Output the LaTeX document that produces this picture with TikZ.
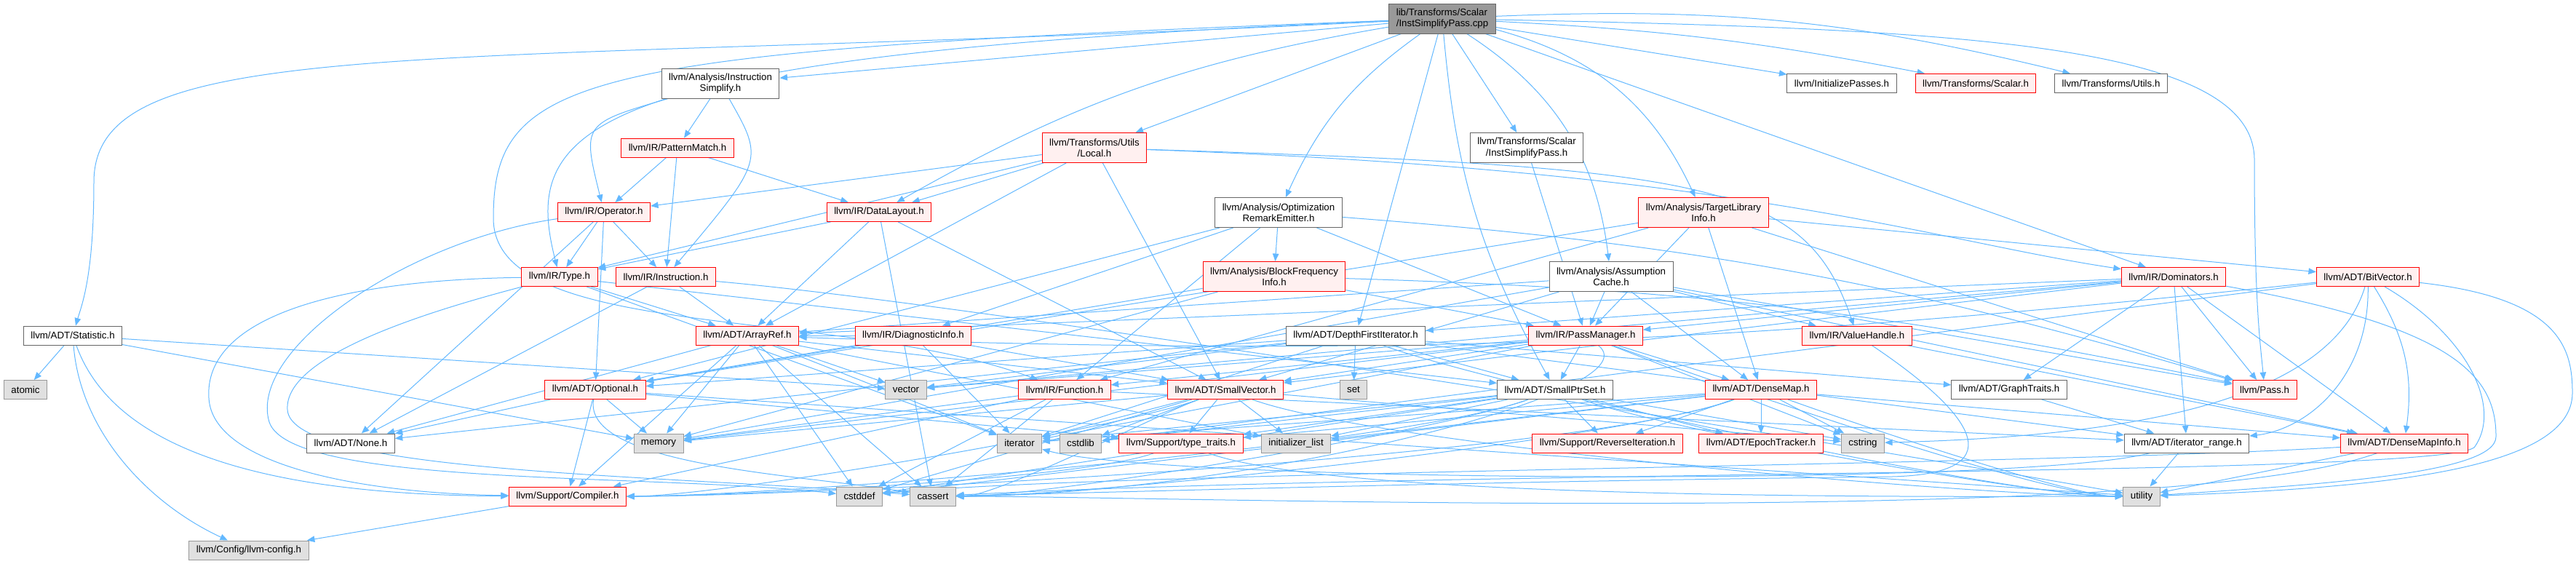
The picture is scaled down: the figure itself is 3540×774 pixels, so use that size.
\documentclass[tikz,border=0pt]{standalone}
\usepackage{fontspec}
\setmainfont{Liberation Sans}
\usetikzlibrary{arrows.meta}
\pgfdeclarelayer{background}
\pgfsetlayers{background,main}

\definecolor{edgeblue}{HTML}{63B8FF}
\definecolor{hdrline}{HTML}{666666}
\definecolor{redfill}{HTML}{FFF0F0}
\definecolor{sysline}{HTML}{999999}
\definecolor{sysfill}{HTML}{E0E0E0}
\definecolor{srcfill}{HTML}{999999}

% one unit is one pixel of the target, drawn at 0.2pt
\tikzset{
  hbox/.style={rectangle, line width=0.2pt, inner xsep=2pt, inner ysep=0.6pt,
               minimum height=5.2pt, align=center,
               font=\fontsize{2.66}{3.1}\selectfont},
  twoline/.style={minimum height=8.2pt},
  hsrc/.style={hbox, draw=hdrline, fill=srcfill, align=left},
  hfile/.style={hbox, draw=hdrline, fill=white},
  hred/.style={hbox, draw=red, fill=redfill},
  hsys/.style={hbox, draw=sysline, fill=sysfill},
  incl/.style={draw=edgeblue, line width=0.2pt, -{Triangle[length=2.1pt,width=1.7pt]}},
  lowleft/.style={out=-160, in=0, looseness=0.4},
  lowright/.style={out=-20, in=180, looseness=0.4},
}

\begin{document}
\begin{tikzpicture}[x=0.2pt, y=-0.2pt]
\useasboundingbox (0,0) rectangle (3540,774);

% the source file
\node[hsrc, twoline] (root) at (1982,25.5) {lib/Transforms/Scalar\\/InstSimplifyPass.cpp};

% headers, row by row
\node[hfile, twoline] (ainst) at (990,114.5) {llvm/Analysis/Instruction\\Simplify.h};
\node[hfile] (initp) at (2531,114.5) {llvm/InitializePasses.h};
\node[hred] (scalarh) at (2715,114.5) {llvm/Transforms/Scalar.h};
\node[hfile] (utilsh) at (2901,114.5) {llvm/Transforms/Utils.h};

\node[hred] (patmatch) at (931,203) {llvm/IR/PatternMatch.h};
\node[hred, twoline] (local) at (1504,203) {llvm/Transforms/Utils\\/Local.h};
\node[hfile, twoline] (isp) at (2098,203) {llvm/Transforms/Scalar\\/InstSimplifyPass.h};

\node[hred] (operator) at (830,291.5) {llvm/IR/Operator.h};
\node[hred] (datalayout) at (1208,291.5) {llvm/IR/DataLayout.h};
\node[hfile, twoline] (ore) at (1757,292) {llvm/Analysis/Optimization\\RemarkEmitter.h};
\node[hred, twoline] (tli) at (2341,292) {llvm/Analysis/TargetLibrary\\Info.h};

\node[hred] (type) at (769,380.5) {llvm/IR/Type.h};
\node[hred] (instr) at (915,380.5) {llvm/IR/Instruction.h};
\node[hred, twoline] (bfi) at (1751,380) {llvm/Analysis/BlockFrequency\\Info.h};
\node[hfile, twoline] (ac) at (2214,380) {llvm/Analysis/Assumption\\Cache.h};
\node[hred] (dom) at (2987,380.5) {llvm/IR/Dominators.h};
\node[hred] (bitvec) at (3254,380.5) {llvm/ADT/BitVector.h};

\node[hfile] (stat) at (100,461) {llvm/ADT/Statistic.h};
\node[hred] (arrayref) at (1027,461) {llvm/ADT/ArrayRef.h};
\node[hred] (diag) at (1255,461) {llvm/IR/DiagnosticInfo.h};
\node[hfile] (dfi) at (1863,461) {llvm/ADT/DepthFirstIterator.h};
\node[hred] (pm) at (2179,461) {llvm/IR/PassManager.h};
\node[hred] (vh) at (2552,461) {llvm/IR/ValueHandle.h};

\node[hsys] (atomic) at (35,535.5) {atomic};
\node[hred] (optional) at (818,535.5) {llvm/ADT/Optional.h};
\node[hsys] (vector) at (1245,535.5) {vector};
\node[hred] (function) at (1463,535.5) {llvm/IR/Function.h};
\node[hred] (smallvec) at (1684,535.5) {llvm/ADT/SmallVector.h};
\node[hsys] (set) at (1860,535.5) {set};
\node[hfile] (smallptr) at (2137,535.5) {llvm/ADT/SmallPtrSet.h};
\node[hred] (densemap) at (2420,535.5) {llvm/ADT/DenseMap.h};
\node[hfile] (graphtr) at (2761,535.5) {llvm/ADT/GraphTraits.h};
\node[hred] (pass) at (3112,535.5) {llvm/Pass.h};

\node[hfile] (none) at (482,609) {llvm/ADT/None.h};
\node[hsys] (memory) at (905,609) {memory};
\node[hsys] (iterator) at (1401,609) {iterator};
\node[hsys] (cstdlib) at (1485,609) {cstdlib};
\node[hred] (typetr) at (1623,609) {llvm/Support/type\_traits.h};
\node[hsys] (initlist) at (1781,609) {initializer\_list};
\node[hred] (reviter) at (2209,609) {llvm/Support/ReverseIteration.h};
\node[hred] (epoch) at (2420,609) {llvm/ADT/EpochTracker.h};
\node[hsys] (cstring) at (2560,609) {cstring};
\node[hfile] (itrange) at (3005,609) {llvm/ADT/iterator\_range.h};
\node[hred] (dmi) at (3304,609) {llvm/ADT/DenseMapInfo.h};

\node[hred] (compiler) at (780,682) {llvm/Support/Compiler.h};
\node[hsys] (cstddef) at (1181,682) {cstddef};
\node[hsys] (cassert) at (1282,682) {cassert};
\node[hsys] (utility) at (2943,682) {utility};

\node[hsys] (config) at (342,756) {llvm/Config/llvm-config.h};

\begin{pgfonlayer}{background}
% from the .cpp
\draw[incl] (root) -- (ainst);
\draw[incl] (root) -- (local);
\draw[incl] (root) to[bend right=10] (datalayout);
\draw[incl] (root) .. controls (800,75) and (715,170) .. (type);
\draw[incl] (root) .. controls (800,70) and (678,100) .. (678,300) .. controls (678,470) and (1150,420) .. (function);
\draw[incl] (root) .. controls (600,95) and (129,40) .. (129,250) .. controls (129,380) and (112,420) .. (stat);
\draw[incl] (root) .. controls (2700,40) and (3098,60) .. (3098,220) .. controls (3098,420) and (3106,470) .. (pass);
\draw[incl] (root) to[bend right=15] (ore);
\draw[incl] (root) -- (dfi);
\draw[incl] (root) -- (isp);
\draw[incl] (root) to[bend right=12] (smallptr);
\draw[incl] (root) to[bend left=25] (ac);
\draw[incl] (root) to[bend left=25] (tli);
\draw[incl] (root) -- (dom);
\draw[incl] (root) -- (initp);
\draw[incl] (root) to[bend left=4] (scalarh);
\draw[incl] (root) to[bend left=8] (utilsh);

% analysis and transform headers
\draw[incl] (ainst) .. controls (800,170) .. (operator);
\draw[incl] (ainst) -- (patmatch);
\draw[incl] (ainst) .. controls (1050,220) .. (instr);
\draw[incl] (patmatch) -- (operator);
\draw[incl] (patmatch) -- (instr);
\draw[incl] (patmatch) -- (datalayout);
\draw[incl] (isp) -- (pm);
\draw[incl] (local) -- (operator);
\draw[incl] (local) -- (type);
\draw[incl] (local) -- (datalayout);
\draw[incl] (local) -- (arrayref);
\draw[incl] (local) -- (smallvec);
\draw[incl] (local) .. controls (2350,230) and (2480,250) .. (vh);
\draw[incl] (local) .. controls (2400,235) and (2650,330) .. (dom);
\draw[incl] (ore) -- (bfi);
\draw[incl] (ore) -- (diag);
\draw[incl] (ore) -- (optional);
\draw[incl] (ore) -- (function);
\draw[incl] (ore) -- (pm);
\draw[incl] (ore) to[bend left=6] (pass);
\draw[incl] (tli) -- (bitvec);
\draw[incl] (tli) -- (densemap);
\draw[incl] (tli) -- (optional);
\draw[incl] (tli) -- (function);
\draw[incl] (tli) -- (pm);
\draw[incl] (tli) -- (pass);
\draw[incl] (bfi) -- (optional);
\draw[incl] (bfi) -- (pm);
\draw[incl] (bfi) to[bend left=5] (pass);
\draw[incl] (bfi) -- (memory);
\draw[incl] (ac) -- (arrayref);
\draw[incl] (ac) -- (smallvec);
\draw[incl] (ac) -- (memory);
\draw[incl] (ac) -- (pm);
\draw[incl] (ac) -- (densemap);
\draw[incl] (ac) -- (dmi);
\draw[incl] (ac) -- (vh);
\draw[incl] (ac) -- (pass);

% IR headers
\draw[incl] (operator) -- (type);
\draw[incl] (operator) -- (instr);
\draw[incl] (operator) -- (none);
\draw[incl] (operator) -- (optional);
\draw[incl] (operator) .. controls (560,330) and (340,480) .. (370,580) .. controls (400,670) and (900,650) .. (cstddef);
\draw[incl] (datalayout) -- (type);
\draw[incl] (datalayout) -- (arrayref);
\draw[incl] (datalayout) -- (smallvec);
\draw[incl] (datalayout) -- (cassert);
\draw[incl] (type) -- (arrayref);
\draw[incl] (type) -- (smallptr);
\draw[incl] (type) -- (iterator);
\draw[incl] (type) .. controls (450,385) and (280,440) .. (287,547) .. controls (292,640) and (500,678) .. (compiler);
\draw[incl] (type) .. controls (580,430) and (390,490) .. (395,563) .. controls (400,650) and (900,652) .. (cassert);
\draw[incl] (instr) -- (arrayref);
\draw[incl] (instr) -- (none);
\draw[incl] (instr) to[out=-5, in=170, looseness=0.5] (utility);
\draw[incl] (dom) -- (arrayref);
\draw[incl] (dom) -- (vector);
\draw[incl] (dom) -- (smallvec);
\draw[incl] (dom) -- (dfi);
\draw[incl] (dom) -- (pm);
\draw[incl] (dom) -- (graphtr);
\draw[incl] (dom) -- (itrange);
\draw[incl] (dom) -- (pass);
\draw[incl] (dom) -- (dmi);
\draw[incl] (dom) .. controls (3380,450) and (3430,520) .. (3430,600) .. controls (3430,650) and (3200,665) .. (utility);
\draw[incl] (diag) -- (arrayref);
\draw[incl] (diag) -- (optional);
\draw[incl] (diag) -- (smallvec);
\draw[incl] (diag) -- (iterator);
\draw[incl] (pm) -- (densemap);
\draw[incl] (pm) -- (smallptr);
\draw[incl] (pm) -- (smallvec);
\draw[incl] (pm) -- (function);
\draw[incl] (pm) .. controls (2280,540) and (1700,680) .. (cassert);
\draw[incl] (pm) -- (cstring);
\draw[incl] (pm) -- (iterator);
\draw[incl] (pm) -- (memory);
\draw[incl] (pm) to[lowright] (utility);
\draw[incl] (pm) -- (vector);
\draw[incl] (vh) -- (dmi);
\draw[incl] (vh) .. controls (2700,560) and (2780,650) .. (2600,655) .. controls (2000,662) and (1600,675) .. (cassert);
\draw[incl] (function) -- (itrange);
\draw[incl] (function) -- (compiler);
\draw[incl] (function) -- (cassert);
\draw[incl] (function) -- (cstddef);
\draw[incl] (function) -- (memory);

% ADT headers
\draw[incl] (bitvec) to[bend left=4] (arrayref);
\draw[incl] (bitvec) -- (cstdlib);
\draw[incl] (bitvec) .. controls (3200,560) and (2900,600) .. (cstring);
\draw[incl] (bitvec) .. controls (3256,520) and (3170,590) .. (itrange);
\draw[incl] (bitvec) to[bend left=20] (dmi);
\draw[incl] (bitvec) .. controls (3390,460) and (3440,560) .. (3400,615) .. controls (3340,655) and (2000,645) .. (cassert);
\draw[incl] (bitvec) .. controls (3520,410) and (3535,480) .. (3535,540) .. controls (3535,640) and (3300,670) .. (utility);
\draw[incl] (stat) -- (atomic);
\draw[incl] (stat) .. controls (110,590) and (200,690) .. (config);
\draw[incl] (stat) .. controls (150,600) and (320,680) .. (compiler);
\draw[incl] (stat) -- (memory);
\draw[incl] (stat) -- (vector);
\draw[incl] (arrayref) -- (none);
\draw[incl] (arrayref) -- (smallvec);
\draw[incl] (arrayref) -- (compiler);
\draw[incl] (arrayref) -- (cassert);
\draw[incl] (arrayref) -- (cstddef);
\draw[incl] (arrayref) -- (initlist);
\draw[incl] (arrayref) -- (iterator);
\draw[incl] (arrayref) -- (memory);
\draw[incl] (arrayref) -- (vector);
\draw[incl] (dfi) -- (graphtr);
\draw[incl] (dfi) -- (none);
\draw[incl] (dfi) -- (optional);
\draw[incl] (dfi) -- (smallptr);
\draw[incl] (dfi) -- (itrange);
\draw[incl] (dfi) -- (iterator);
\draw[incl] (dfi) -- (set);
\draw[incl] (dfi) to[lowright] (utility);
\draw[incl] (dfi) -- (vector);
\draw[incl] (optional) -- (none);
\draw[incl] (optional) -- (compiler);
\draw[incl] (optional) -- (typetr);
\draw[incl] (optional) -- (memory);
\draw[incl] (optional) .. controls (800,640) and (1100,652) .. (cassert);
\draw[incl] (optional) -- (utility);
\draw[incl] (smallvec) to[lowleft] (compiler);
\draw[incl] (smallvec) -- (typetr);
\draw[incl] (smallvec) to[lowleft] (cassert);
\draw[incl] (smallvec) -- (cstddef);
\draw[incl] (smallvec) -- (cstdlib);
\draw[incl] (smallvec) -- (cstring);
\draw[incl] (smallvec) -- (initlist);
\draw[incl] (smallvec) -- (iterator);
\draw[incl] (smallvec) -- (memory);
\draw[incl] (smallvec) to[lowright] (utility);
\draw[incl] (smallptr) -- (epoch);
\draw[incl] (smallptr) to[lowleft] (compiler);
\draw[incl] (smallptr) -- (reviter);
\draw[incl] (smallptr) -- (typetr);
\draw[incl] (smallptr) to[lowleft] (cassert);
\draw[incl] (smallptr) -- (cstddef);
\draw[incl] (smallptr) -- (cstdlib);
\draw[incl] (smallptr) -- (cstring);
\draw[incl] (smallptr) -- (initlist);
\draw[incl] (smallptr) -- (iterator);
\draw[incl] (smallptr) to[lowright] (utility);
\draw[incl] (densemap) -- (dmi);
\draw[incl] (densemap) -- (epoch);
\draw[incl] (densemap) to[lowleft] (compiler);
\draw[incl] (densemap) -- (reviter);
\draw[incl] (densemap) -- (typetr);
\draw[incl] (densemap) to[lowleft] (cassert);
\draw[incl] (densemap) -- (cstddef);
\draw[incl] (densemap) -- (cstring);
\draw[incl] (densemap) -- (initlist);
\draw[incl] (densemap) -- (iterator);
\draw[incl] (densemap) to[lowright] (utility);
\draw[incl] (graphtr) -- (itrange);
\draw[incl] (typetr) to[lowleft] (compiler);
\draw[incl] (typetr) to[lowright] (utility);
\draw[incl] (itrange) -- (utility);
\draw[incl] (itrange) to[out=195, in=-15, looseness=0.3] (iterator);
\draw[incl] (dmi) to[lowleft] (cassert);
\draw[incl] (dmi) .. controls (2800,640) and (1500,648) .. (cstddef);
\draw[incl] (dmi) -- (utility);
\draw[incl] (compiler) -- (config);
\end{pgfonlayer}
\end{tikzpicture}
\end{document}
